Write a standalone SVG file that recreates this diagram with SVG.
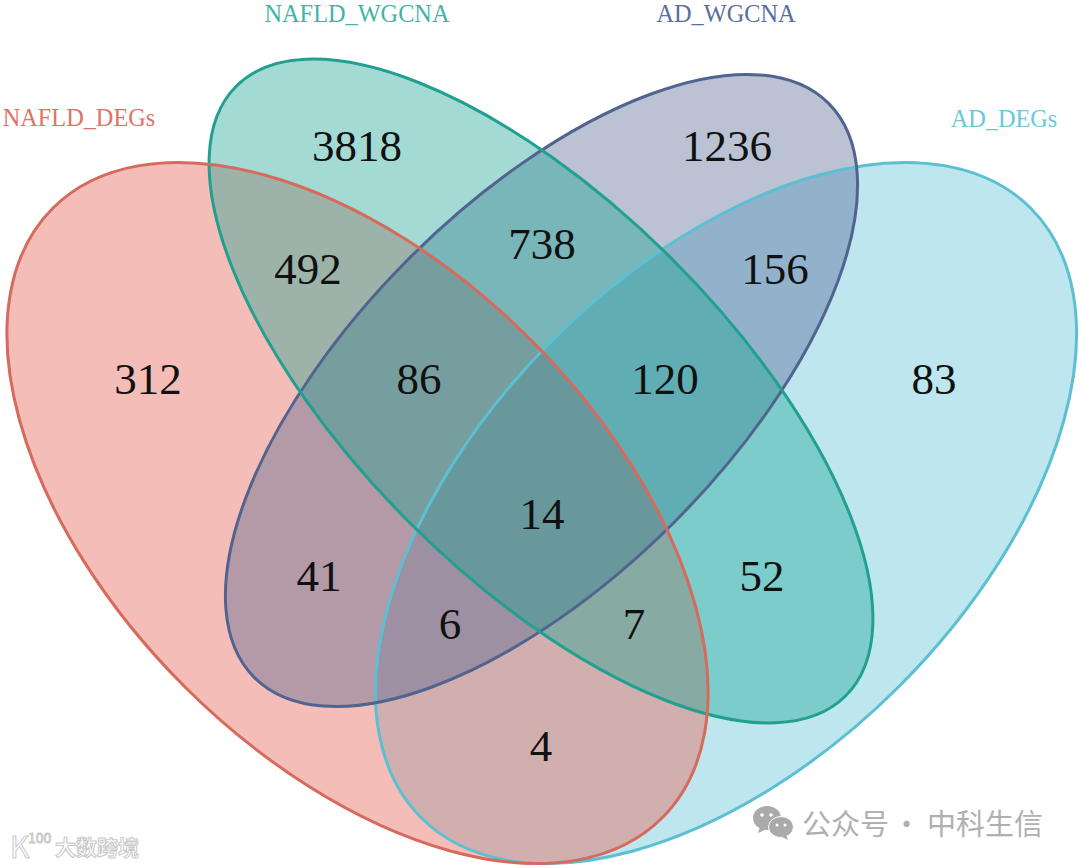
<svg xmlns="http://www.w3.org/2000/svg" width="1080" height="867" viewBox="0 0 1080 867">
<style>
.s{fill:none;stroke-width:3}
.n{font-family:"Liberation Serif",serif;font-size:45px;fill:#111;text-anchor:middle}
.l{font-family:"Liberation Serif",serif;font-size:24.3px;text-anchor:middle}
.w{font-family:"Noto Sans CJK SC",sans-serif;font-size:29px;fill:#b0b0b0}
.x{font-family:"Noto Sans CJK SC",sans-serif;font-size:21px;font-weight:700;fill:#fff;stroke:#c8c8c8;stroke-width:1}
</style>
<defs>
<ellipse id="r" cx="357.5" cy="513" rx="431" ry="245" transform="rotate(45 357.5 513)"/>
<ellipse id="c" cx="726" cy="513" rx="431" ry="245" transform="rotate(-45 726 513)"/>
<ellipse id="g" cx="541" cy="391" rx="431" ry="186" transform="rotate(45 541 391)"/>
<ellipse id="b" cx="541.5" cy="390.5" rx="406" ry="187" transform="rotate(-45 541.5 390.5)"/>
</defs>
<rect width="1080" height="867" fill="#fff"/>
<g id="ad_degs"><use href="#c" fill="#62c4d8" fill-opacity="0.42"/></g>
<g id="nafld_degs"><use href="#r" fill="#e8685a" fill-opacity="0.44"/></g>
<g id="ad_wgcna"><use href="#b" fill="#4a5f8e" fill-opacity="0.38"/></g>
<g id="nafld_wgcna"><use href="#g" fill="#18a594" fill-opacity="0.4"/></g>
<g id="connectors">
<use href="#c" class="s" stroke="#5cbfd2"/>
<use href="#b" class="s" stroke="#50648f"/>
<use href="#g" class="s" stroke="#22a08f"/>
<use href="#r" class="s" stroke="#d66a5c"/>
</g>
<g id="labels">
<text class="l" x="79" y="126" fill="#dd7466">NAFLD_DEGs</text>
<text class="l" x="357" y="22" fill="#3fb5a4">NAFLD_WGCNA</text>
<text class="l" x="726" y="22" fill="#5c6d9e">AD_WGCNA</text>
<text class="l" x="1004" y="127" fill="#6cc8da">AD_DEGs</text>
<text class="n" x="357" y="161">3818</text>
<text class="n" x="727" y="161">1236</text>
<text class="n" x="542" y="259">738</text>
<text class="n" x="308" y="284">492</text>
<text class="n" x="775" y="284">156</text>
<text class="n" x="148" y="394">312</text>
<text class="n" x="419" y="394">86</text>
<text class="n" x="665" y="394">120</text>
<text class="n" x="934" y="394">83</text>
<text class="n" x="542" y="529">14</text>
<text class="n" x="319" y="591">41</text>
<text class="n" x="762" y="591">52</text>
<text class="n" x="450" y="639">6</text>
<text class="n" x="634" y="639">7</text>
<text class="n" x="541" y="761">4</text>
</g>
<g id="watermark">
<ellipse cx="767" cy="818" rx="14" ry="12" fill="#aaa"/>
<path d="M760 827l-2 6 7-3z" fill="#aaa"/>
<ellipse cx="781" cy="827" rx="12.5" ry="10.5" fill="#aaa" stroke="#fff"/>
<path d="M786 835l2 5-6-3z" fill="#aaa"/>
<circle cx="762" cy="815" r="1.8" fill="#fff"/><circle cx="771" cy="815" r="1.8" fill="#fff"/>
<circle cx="777" cy="825" r="1.5" fill="#fff"/><circle cx="785" cy="825" r="1.5" fill="#fff"/>
<text class="w" x="802" y="835">公众号</text>
<text class="w" x="892" y="835">·</text>
<text class="w" x="927" y="835">中科生信</text>
<text class="x" x="10" y="858" style="font-size:30px;font-weight:400">K</text>
<text class="x" x="28" y="843" style="font-size:14px;font-weight:400">100</text>
<text class="x" x="55" y="855">大数跨境</text>
</g>
</svg>
